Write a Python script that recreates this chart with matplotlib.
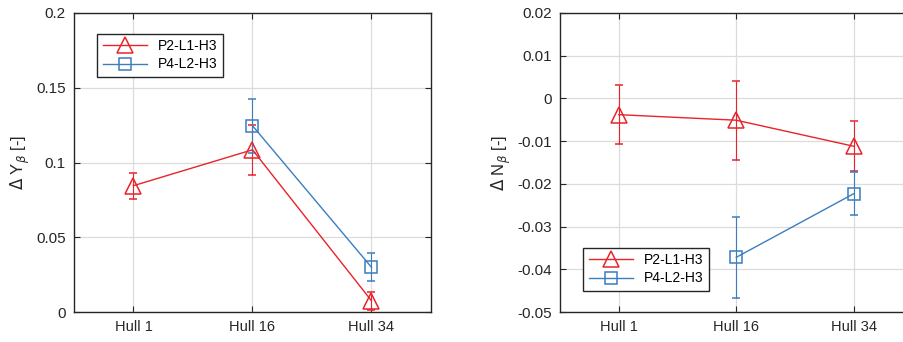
import matplotlib
matplotlib.use("Agg")
import matplotlib.pyplot as plt
import numpy as np

categories = ["Hull 1", "Hull 16", "Hull 34"]

# Left panel: Delta Y_beta
y_p2 = [0.0845, 0.1085, 0.0075]
y_p2_err = [0.0086, 0.0166, 0.006]
y_p4_x = ["Hull 16", "Hull 34"]
y_p4 = [0.1246, 0.0299]
y_p4_err = [0.018, 0.0093]

# Right panel: Delta N_beta
n_p2 = [-0.0038, -0.0051, -0.0112]
n_p2_err = [0.0069, 0.0092, 0.0059]
n_p4_x = ["Hull 16", "Hull 34"]
n_p4 = [-0.0372, -0.0223]
n_p4_err = [0.0095, 0.0051]

RED = "#e8232b"
BLUE = "#3b7dbf"
plt.rcParams['font.family'] = ['Arial', 'Liberation Sans', 'DejaVu Sans']

fig = plt.figure(figsize=(9.04, 3.42), dpi=100)
W, H = 904, 342
ax1 = fig.add_axes([74/W, 1-312/H, 357/W, 299/H])
ax2 = fig.add_axes([560/W, 1-312/H, 352.5/W, 299/H])

pos = {c: i+1 for i, c in enumerate(categories)}

def style(ax, ylim, yticks, yticklabels):
    ax.set_xlim(0.5, 3.5)
    ax.set_ylim(*ylim)
    ax.set_xticks([1, 2, 3])
    ax.set_xticklabels(categories)
    ax.set_yticks(yticks)
    ax.set_yticklabels(yticklabels)
    ax.grid(True, color="#dcdcdc", linewidth=0.9)
    ax.set_axisbelow(True)
    ax.tick_params(direction="in", length=4, width=0.8, top=True, right=True,
                   labelsize=10.5, colors="#262626", pad=6)
    ax.tick_params(axis="y", labelsize=11)
    for s in ax.spines.values():
        s.set_color("#262626")
        s.set_linewidth(1.0)

def draw(ax, xs, ys, errs, color, marker, label, ms):
    x = [pos[c] for c in xs]
    ax.errorbar(x, ys, yerr=errs, color=color, marker=marker, markersize=ms,
                markerfacecolor="none", markeredgewidth=1.1, linewidth=1.0,
                elinewidth=0.8, capsize=3, capthick=0.8, label=label)

draw(ax1, categories, y_p2, y_p2_err, RED, "^", "P2-L1-H3", 11)
draw(ax1, y_p4_x, y_p4, y_p4_err, BLUE, "s", "P4-L2-H3", 9)
style(ax1, (0, 0.2), [0, 0.05, 0.1, 0.15, 0.2], ["0", "0.05", "0.1", "0.15", "0.2"])
ax1.set_ylabel(r"$\Delta$ Y$_\beta$ [-]", fontsize=12, color="#262626", labelpad=3)

draw(ax2, categories, n_p2, n_p2_err, RED, "^", "P2-L1-H3", 11)
draw(ax2, n_p4_x, n_p4, n_p4_err, BLUE, "s", "P4-L2-H3", 9)
style(ax2, (-0.05, 0.02), [-0.05, -0.04, -0.03, -0.02, -0.01, 0, 0.01, 0.02],
      ["-0.05", "-0.04", "-0.03", "-0.02", "-0.01", "0", "0.01", "0.02"])
ax2.set_ylabel(r"$\Delta$ N$_\beta$ [-]", fontsize=12, color="#262626", labelpad=3)

for ax, loc in ((ax1, (97/W, 1-77/H)), (ax2, (583/W, 1-291/H))):
    h, l = ax.get_legend_handles_labels()
    h = [hh[0] if hasattr(hh, '__getitem__') else hh for hh in h]
    leg = ax.legend(h, l, loc="lower left", bbox_to_anchor=loc, bbox_transform=fig.transFigure,
                    fancybox=False, framealpha=1, edgecolor="#262626", fontsize=10,
                    handlelength=3.2, borderpad=0.4, labelspacing=0.3, borderaxespad=0)
    leg.get_frame().set_linewidth(1.0)

fig.savefig("out.png", dpi=100)
